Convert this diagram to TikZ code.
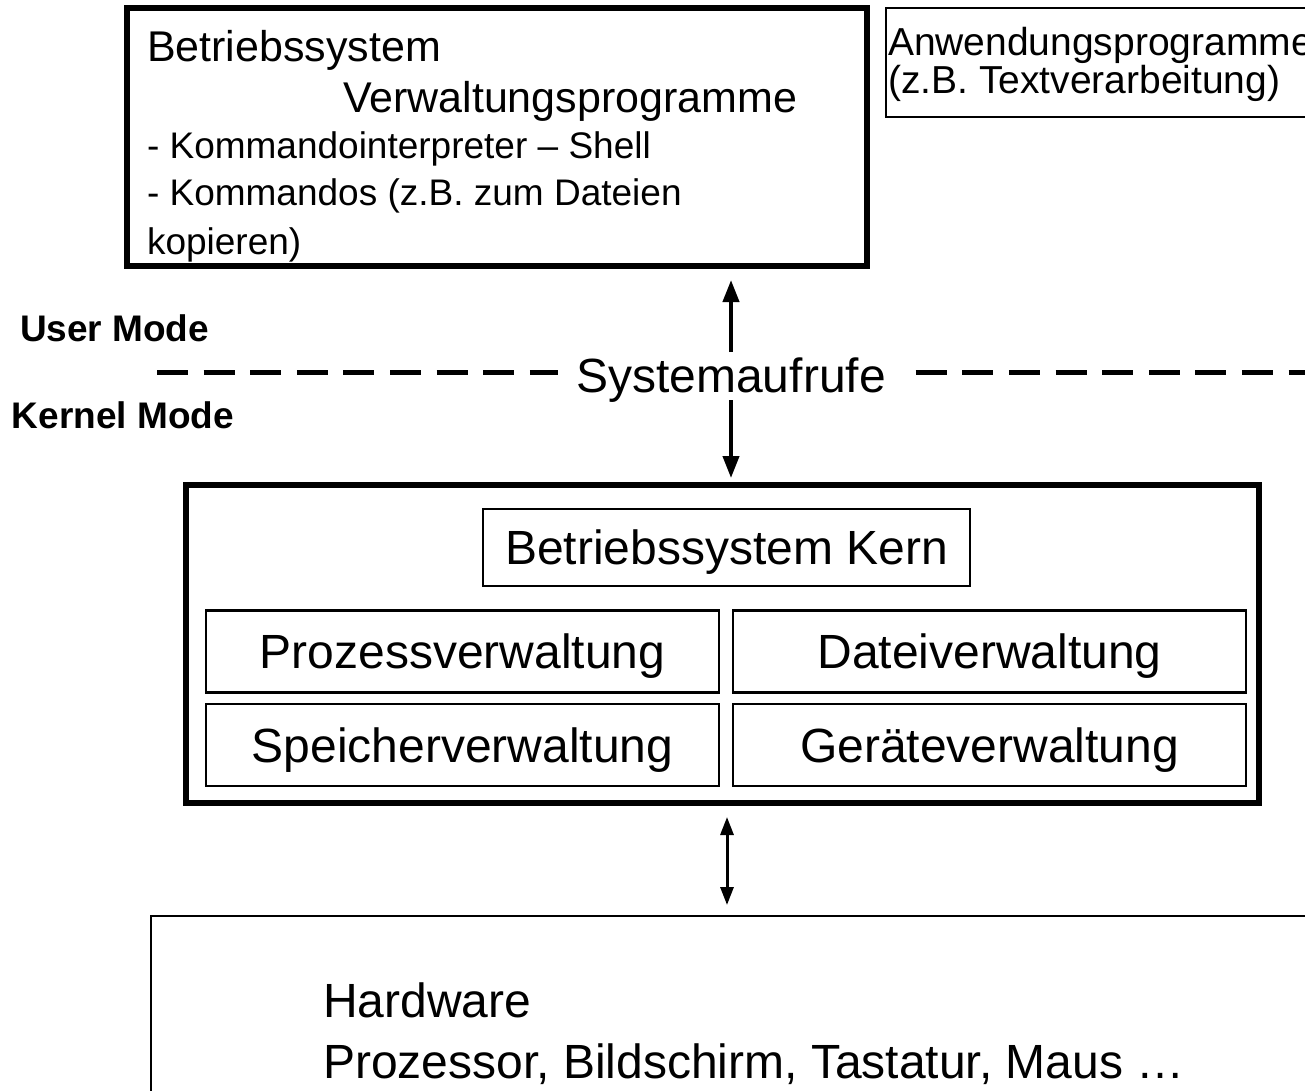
\documentclass[tikz,border=0pt]{standalone}
\usepackage{fontspec}
\setmainfont{Liberation Sans}
\usetikzlibrary{calc}
\usetikzlibrary{positioning}
\usetikzlibrary{arrows.meta}

\begin{document}
\begin{tikzpicture}
  [
  x=1pt, y=-1pt,
  % 文字と線の間隔
  every node/.style={inner sep=0, outer sep=0},
  % 文字の大きさ
  big/.style={font=\fontsize{48}{56}\selectfont},
  mid/.style={font=\fontsize{43}{50}\selectfont},
  small/.style={font=\fontsize{37}{44}\selectfont},
  note/.style={font=\fontsize{39}{45}\selectfont},
  mode/.style={font=\fontsize{37}{43}\selectfont\bfseries},
  % 矢印の設定
  arrow/.style={-{Triangle[length=22pt, width=16pt]}, line width=4pt},
  dblarrow/.style={{Triangle[length=18pt, width=13pt]}-{Triangle[length=18pt, width=13pt]}, line width=3pt},
  % 太い枠
  frame/.style={rectangle, draw, line width=6pt, anchor=north west},
  % 細い枠
  block/.style={rectangle, draw, line width=1.5pt},
  % カーネルの中のブロック
  unit/.style={rectangle, draw, line width=2.5pt, minimum width=513pt,
  minimum height=82pt, big, text height=34pt, text depth=0pt},
  % 境界線
  modeline/.style={line width=5pt, dash pattern=on 31pt off 15.6pt}
  ]
  \useasboundingbox (0,0) rectangle (1305,1090);
  \clip (0,0) rectangle (1305,1090);

  % ユーザモード
  \node [frame, minimum width=740pt, minimum height=258pt] (os) at (127,8) {};
  \node [mid, anchor=base west] (ostitle) at (147,61) {Betriebssystem};
  \node [mid, anchor=base west] (osprog) at (343,112) {Verwaltungsprogramme};
  \node [small, anchor=base west] (shell) at (147,158) {- Kommandointerpreter – Shell};
  \node [small, anchor=base west] (cmd) at (147,205) {- Kommandos (z.B. zum Dateien};
  \node [small, anchor=base west] (cmdb) at (147,254) {kopieren)};

  \node [block, anchor=north west, minimum width=470pt, minimum height=109pt] (app) at (886,8) {};
  \node [note, anchor=base west] (apptitle) at (888,55) {Anwendungsprogramme};
  \node [note, anchor=base west] (appex) at (888,93) {(z.B. Textverarbeitung)};

  % システムコール
  \node [big, anchor=base, text height=34pt, text depth=0pt] (sys) at (731,392) {Systemaufrufe};
  \node [mode, anchor=base west] (user) at (20,341) {User Mode};
  \node [mode, anchor=base west] (kernel) at (12,428) {Kernel Mode};
  \coordinate (dl) at (157,372);
  \coordinate (dr) at (1330,372);
  \draw [modeline, shorten >=18pt] (dl) -- (dl -| sys.west);
  \draw [modeline, shorten <=30pt] (dl -| sys.east) -- (dr);
  \draw [arrow, shorten <=6pt, shorten >=14pt] (sys.north) -- (sys.north |- os.south);

  % カーネル
  \node [frame, minimum width=1073pt, minimum height=318pt] (kern) at (186,485) {};
  \draw [arrow, shorten <=8pt, shorten >=7pt] (sys.south) -- (sys.south |- kern.north);
  \node [block, big, minimum width=487pt, minimum height=77pt,
  text height=34pt, text depth=0pt] (core) at (726.5,547.5) {Betriebssystem Kern};
  \node [unit] (proc) at (462.5,651.5) {Prozessverwaltung};
  \node [unit] (file) at (989.5,651.5) {Dateiverwaltung};
  \node [unit] (mem) at (462.5,745) {Speicherverwaltung};
  \node [unit] (dev) at (989.5,745) {Geräteverwaltung};

  % ハードウェア
  \node [rectangle, draw, line width=2pt, anchor=north west, minimum width=1250pt,
  minimum height=250pt] (hw) at (151,916) {};
  \node [big, anchor=base west] (hwtitle) at (323,1017) {Hardware};
  \node [big, anchor=base west] (hwlist) at (323,1078) {Prozessor, Bildschirm, Tastatur, Maus …};
  \coordinate (kh) at (727,0);
  \draw [dblarrow, shorten <=14pt, shorten >=11pt] (kh |- kern.south) -- (kh |- hw.north);
\end{tikzpicture}
\end{document}
